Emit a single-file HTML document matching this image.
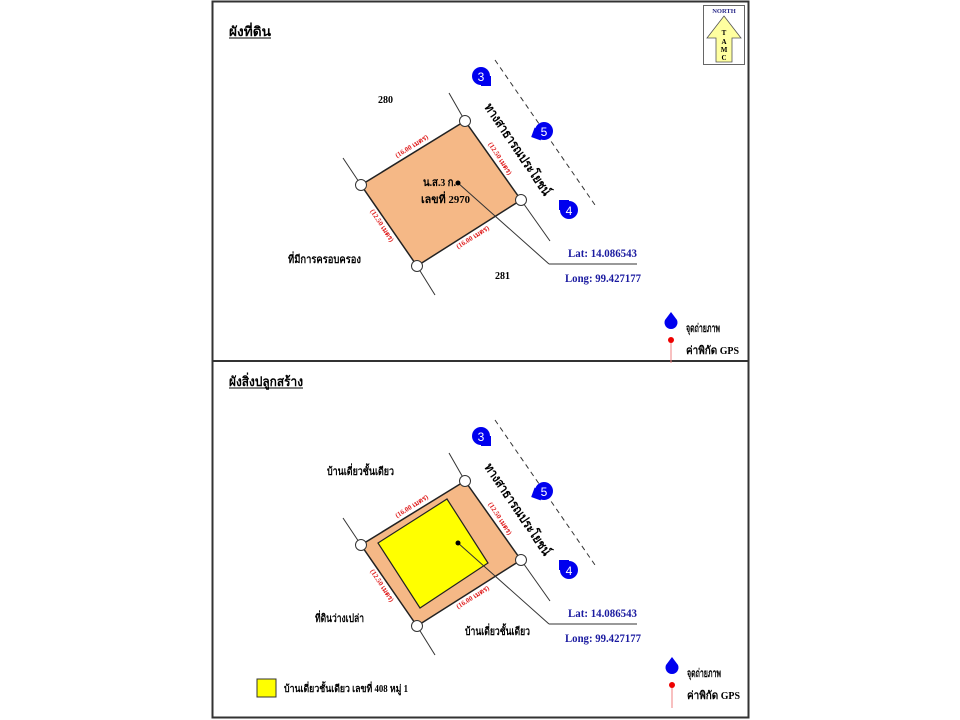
<!DOCTYPE html>
<html><head><meta charset="utf-8"><style>
html,body{margin:0;padding:0;background:#fff;width:960px;height:720px;overflow:hidden}
svg{display:block}
text{font-family:"Liberation Serif","Noto Serif CJK SC","Noto Sans CJK SC",serif;font-weight:bold}
.n{font-family:"Liberation Sans",sans-serif;font-weight:normal}
</style></head><body>
<svg width="960" height="720" viewBox="0 0 960 720" xmlns="http://www.w3.org/2000/svg">
<defs>
<g id="cam"><circle cx="0" cy="0" r="9" fill="#0000ee"/><rect x="0" y="0" width="10" height="10" fill="#0000ee"/></g>
<g id="panel">
  <line x1="449" y1="93" x2="465" y2="121" stroke="#333" stroke-width="1"/>
  <line x1="521" y1="200" x2="550" y2="241" stroke="#333" stroke-width="1"/>
  <line x1="343" y1="158" x2="361" y2="185" stroke="#333" stroke-width="1"/>
  <line x1="417" y1="266" x2="435" y2="295" stroke="#333" stroke-width="1"/>
  <line x1="495" y1="60" x2="595" y2="205" stroke="#333" stroke-width="1" stroke-dasharray="5,4"/>
  <text transform="translate(484,107) rotate(56)" font-size="13" textLength="108" lengthAdjust="spacingAndGlyphs">ทางสาธารณประโยชน์</text>
  <g transform="translate(481,76) rotate(0)"><use href="#cam"/></g>
  <text x="481" y="81" font-size="12" fill="#fff" text-anchor="middle" class="n">3</text>
  <g transform="translate(544,131) rotate(110)"><use href="#cam"/></g>
  <text x="544" y="136" font-size="12" fill="#fff" text-anchor="middle" class="n">5</text>
  <g transform="translate(569,210) rotate(180)"><use href="#cam"/></g>
  <text x="569" y="215" font-size="12" fill="#fff" text-anchor="middle" class="n">4</text>
  <text x="568" y="257" font-size="12" fill="#1a1aa0" textLength="69" lengthAdjust="spacingAndGlyphs">Lat: 14.086543</text>
  <text x="565" y="282" font-size="12" fill="#1a1aa0" textLength="76" lengthAdjust="spacingAndGlyphs">Long: 99.427177</text>
</g>
<g id="legend">
  <path d="M0,-11 L6,-3 A6.5,6.5 0 1 1 -6,-3 Z" fill="#0000ee"/>
  <text x="15" y="9" font-size="11.5" textLength="34" lengthAdjust="spacingAndGlyphs">จุดถ่ายภาพ</text>
  <line x1="0" y1="17" x2="0" y2="40" stroke="#f08080" stroke-width="1"/>
  <circle cx="0" cy="17" r="3" fill="#e00"/>
  <text x="15" y="31" font-size="11" textLength="53" lengthAdjust="spacingAndGlyphs">ค่าพิกัด GPS</text>
</g>
</defs>

<rect x="212.5" y="1.5" width="536" height="716" fill="none" stroke="#333" stroke-width="2"/>
<line x1="212" y1="361" x2="749" y2="361" stroke="#333" stroke-width="2"/>

<rect x="703.5" y="5.5" width="41" height="59" fill="#fff" stroke="#666" stroke-width="1"/>
<text x="724" y="13" font-size="6.5" fill="#2a2a8a" text-anchor="middle">NORTH</text>
<path d="M724,16 L741,38 L732,38 L732,62 L716,62 L716,38 L707,38 Z" fill="#ffffa0" stroke="#555" stroke-width="0.8"/>
<text x="724" y="35" font-size="7" text-anchor="middle">T</text>
<text x="724" y="44" font-size="7" text-anchor="middle">A</text>
<text x="724" y="52" font-size="7" text-anchor="middle">M</text>
<text x="724" y="60" font-size="7" text-anchor="middle">C</text>

<!-- TOP PANEL -->
<text x="229" y="36" font-size="13" textLength="42" lengthAdjust="spacingAndGlyphs">ผังที่ดิน</text>
<line x1="229" y1="38" x2="271" y2="38" stroke="#000" stroke-width="1"/>
<use href="#panel"/>
<use href="#legend" x="671" y="323"/>
<polygon points="465,121 361,185 417,266 521,200" fill="#f5b886" stroke="#222" stroke-width="1.5"/>
<line x1="458" y1="183" x2="549" y2="264" stroke="#333" stroke-width="1"/>
<line x1="549" y1="264" x2="637" y2="264" stroke="#333" stroke-width="1"/>
<circle cx="458" cy="183" r="2.5" fill="#000"/>
<circle cx="465" cy="121" r="5.5" fill="#fff" stroke="#333"/>
<circle cx="361" cy="185" r="5.5" fill="#fff" stroke="#333"/>
<circle cx="417" cy="266" r="5.5" fill="#fff" stroke="#333"/>
<circle cx="521" cy="200" r="5.5" fill="#fff" stroke="#333"/>
<text x="423" y="186" font-size="11" textLength="33" lengthAdjust="spacingAndGlyphs">น.ส.3 ก.</text>
<text x="421" y="203" font-size="11" textLength="49" lengthAdjust="spacingAndGlyphs">เลขที่ 2970</text>
<text transform="translate(397,158) rotate(-32)" font-size="7" fill="#e02020">(16.00 เมตร)</text>
<text transform="translate(488,144) rotate(57)" font-size="7" fill="#e02020">(12.50 เมตร)</text>
<text transform="translate(370,211) rotate(57)" font-size="7" fill="#e02020">(12.50 เมตร)</text>
<text transform="translate(458,249) rotate(-32)" font-size="7" fill="#e02020">(16.00 เมตร)</text>
<text x="378" y="103" font-size="10">280</text>
<text x="495" y="279" font-size="10">281</text>
<text x="288" y="263" font-size="11" textLength="73" lengthAdjust="spacingAndGlyphs">ที่มีการครอบครอง</text>

<!-- BOTTOM PANEL -->
<text x="229" y="386" font-size="13" textLength="74" lengthAdjust="spacingAndGlyphs">ผังสิ่งปลูกสร้าง</text>
<line x1="229" y1="388" x2="303" y2="388" stroke="#000" stroke-width="1"/>
<use href="#panel" y="360"/>
<use href="#legend" x="672" y="668"/>
<polygon points="465,481 361,545 417,626 521,560" fill="#f5b886" stroke="#222" stroke-width="1.5"/>
<polygon points="378,543 447,499 488,563 420,608" fill="#ffff00" stroke="#222" stroke-width="1.2"/>
<line x1="458" y1="543" x2="549" y2="624" stroke="#333" stroke-width="1"/>
<line x1="549" y1="624" x2="637" y2="624" stroke="#333" stroke-width="1"/>
<circle cx="458" cy="543" r="2.5" fill="#000"/>
<circle cx="465" cy="481" r="5.5" fill="#fff" stroke="#333"/>
<circle cx="361" cy="545" r="5.5" fill="#fff" stroke="#333"/>
<circle cx="417" cy="626" r="5.5" fill="#fff" stroke="#333"/>
<circle cx="521" cy="560" r="5.5" fill="#fff" stroke="#333"/>
<text transform="translate(397,518) rotate(-32)" font-size="7" fill="#e02020">(16.00 เมตร)</text>
<text transform="translate(488,504) rotate(57)" font-size="7" fill="#e02020">(12.50 เมตร)</text>
<text transform="translate(370,571) rotate(57)" font-size="7" fill="#e02020">(12.50 เมตร)</text>
<text transform="translate(458,609) rotate(-32)" font-size="7" fill="#e02020">(16.00 เมตร)</text>
<text x="327" y="475" font-size="11" textLength="67" lengthAdjust="spacingAndGlyphs">บ้านเดี่ยวชั้นเดียว</text>
<text x="465" y="635" font-size="11" textLength="65" lengthAdjust="spacingAndGlyphs">บ้านเดี่ยวชั้นเดียว</text>
<text x="315" y="622" font-size="11" textLength="49" lengthAdjust="spacingAndGlyphs">ที่ดินว่างเปล่า</text>
<rect x="257" y="679" width="19" height="18" fill="#ffff00" stroke="#333"/>
<text x="284" y="692" font-size="10" textLength="124" lengthAdjust="spacingAndGlyphs">บ้านเดี่ยวชั้นเดียว เลขที่ 408 หมู่ 1</text>
</svg>
</body></html>
